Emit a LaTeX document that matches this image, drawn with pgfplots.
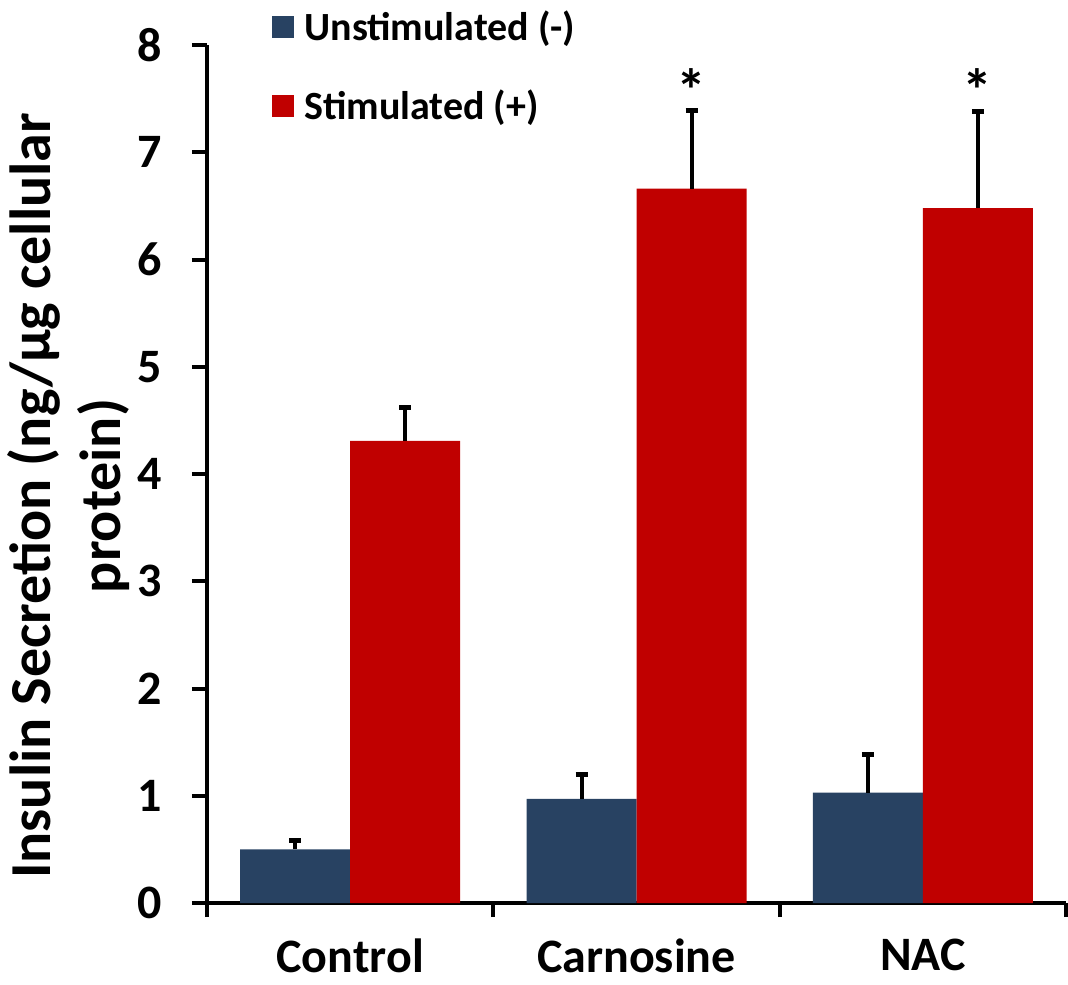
\documentclass[border=0pt]{standalone}
\usepackage{fontspec}
\setmainfont{Carlito}
\usepackage{pgfplots}
\pgfplotsset{compat=1.18}
\definecolor{unstim}{HTML}{284262}
\definecolor{stim}{HTML}{C00000}
\begin{document}
\begin{tikzpicture}
\begin{axis}[
    /pgf/number format/assume math mode=true,
    scale only axis,
    width=429.5pt, height=429pt,
    ybar=0pt, bar width=55pt,
    xmin=-0.5, xmax=2.5, ymin=0, ymax=8,
    axis lines*=left,
    axis line style={line width=2pt},
    xtick={0,1,2},
    xticklabels={Control,Carnosine,NAC},
    major x tick style={draw=none},
    minor xtick={-0.5,0.5,1.5,2.5},
    minor x tick style={line width=2pt, black},
    ytick={0,1,...,8},
    y tick style={line width=2pt, black},
    tick align=outside,
    major tick length=7.5pt, minor tick length=7pt,
    ticklabel style={font=\bfseries\fontsize{24}{28}\selectfont},
    xticklabel style={yshift=-7pt},
    yticklabel style={xshift=-11.5pt},
    ylabel={Insulin Secretion (ng/μg cellular\\protein)},
    ylabel style={font=\bfseries\fontsize{29}{35}\selectfont, align=center, yshift=-3pt, xshift=-11pt},
    legend style={draw=none, fill=none, at={(0.0757,0.975)}, anchor=west,
        font=\bfseries\fontsize{20}{24}\selectfont, row sep=19pt, inner sep=0pt,
        nodes={inner xsep=5pt}},
    legend cell align=left,
    legend image code/.code={\fill[#1] (0pt,-5.5pt) rectangle (11pt,5.5pt);},
    error bars/y dir=plus, error bars/y explicit,
    error bars/error bar style={line width=2pt, black},
    error bars/error mark options={black, rotate=90, mark size=3pt, line width=2.5pt},
    clip=false,
]
\addplot[fill=unstim, draw=none] coordinates {
    (0,0.50) +- (0,0.08)
    (1,0.97) +- (0,0.23)
    (2,1.03) +- (0,0.35)
};
\addlegendentry{Unstimulated (-)}
\addplot[fill=stim, draw=none] coordinates {
    (0,4.31) +- (0,0.31)
    (1,6.66) +- (0,0.73)
    (2,6.48) +- (0,0.90)
};
\addlegendentry{Stimulated (+)}
\node[anchor=base, font=\bfseries\fontsize{30}{34}\selectfont] at ([xshift=27.5pt]axis cs:1,7.38) {*};
\node[anchor=base, font=\bfseries\fontsize{30}{34}\selectfont] at ([xshift=27.5pt]axis cs:2,7.38) {*};
\end{axis}
\pgfresetboundingbox
\path[use as bounding box] (-103.5pt,-40.5pt) rectangle (430.5pt,451.5pt);
\end{tikzpicture}
\end{document}
